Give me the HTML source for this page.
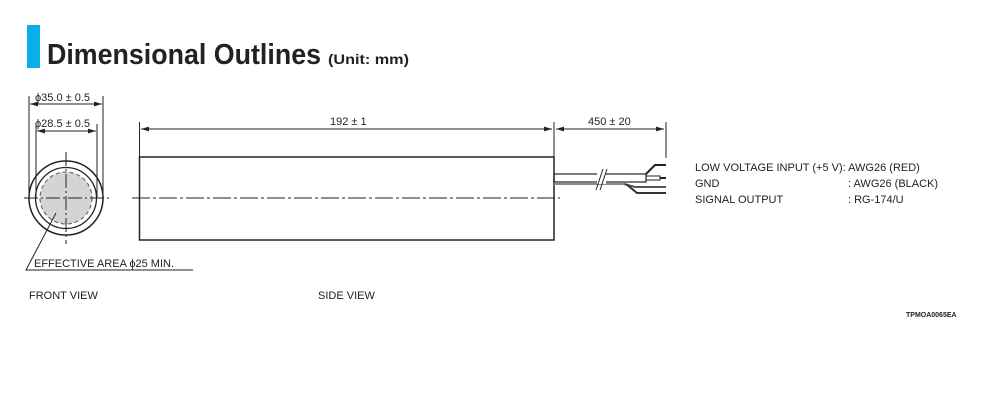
<!DOCTYPE html>
<html><head><meta charset="utf-8"><style>
html,body{margin:0;padding:0;background:#fff;width:1000px;height:400px;overflow:hidden}
svg{display:block}
text{font-family:"Liberation Sans",sans-serif;fill:#222}
</style></head><body>
<svg width="1000" height="400" viewBox="0 0 1000 400">
<defs>
<marker id="a" viewBox="0 0 10 6" refX="10" refY="3" markerWidth="8" markerHeight="5" orient="auto-start-reverse" markerUnits="userSpaceOnUse"><path d="M0,0L10,3L0,6z" fill="#222"/></marker>
</defs>
<rect x="27" y="25" width="13" height="43" fill="#0aaee8"/>
<text x="47" y="64" font-size="29" font-weight="bold" textLength="274" lengthAdjust="spacingAndGlyphs">Dimensional Outlines</text>
<text x="328" y="64" font-size="14" font-weight="bold" textLength="81" lengthAdjust="spacingAndGlyphs">(Unit: mm)</text>

<g stroke="#222" fill="none" stroke-width="1">
<line x1="29" y1="96" x2="29" y2="198"/><line x1="103" y1="96" x2="103" y2="198"/>
<line x1="30" y1="104" x2="102" y2="104" marker-start="url(#a)" marker-end="url(#a)"/>
<line x1="36" y1="124" x2="36" y2="198"/><line x1="97" y1="124" x2="97" y2="198"/>
<line x1="37" y1="131" x2="96" y2="131" marker-start="url(#a)" marker-end="url(#a)"/>
<circle cx="66" cy="198" r="37" stroke-width="1.5"/>
<circle cx="66" cy="198" r="30.5" stroke-width="1.3"/>
<circle cx="66" cy="198" r="26" fill="#d4d4d4" stroke="#555" stroke-dasharray="4 3"/>
<line x1="24" y1="198" x2="109" y2="198" stroke-dasharray="14 3 2 3"/>
<line x1="66" y1="152" x2="66" y2="244" stroke-dasharray="14 3 2 3"/>
<polyline points="56,213 26,270 193,270"/>
<line x1="139.5" y1="122" x2="139.5" y2="157"/><line x1="554" y1="122" x2="554" y2="176"/>
<line x1="141" y1="129" x2="552" y2="129" marker-start="url(#a)" marker-end="url(#a)"/>
<rect x="139.5" y="157" width="414.5" height="83" stroke-width="1.5"/>
<line x1="132" y1="198" x2="560" y2="198" stroke-dasharray="18 3 3 3"/>
<line x1="666" y1="122" x2="666" y2="158"/>
<line x1="556" y1="129" x2="664" y2="129" marker-start="url(#a)" marker-end="url(#a)"/>
<rect x="554" y="174" width="92" height="8" stroke-width="1.2"/>
<line x1="554" y1="184" x2="625" y2="184" stroke="#888" stroke-width="2"/>
<rect x="646" y="176" width="14" height="4"/>
<polyline points="646,174 655,165 666,165" stroke-width="2"/>
<line x1="660" y1="178" x2="666" y2="178" stroke-width="2"/>
<polyline points="624,184 635,187 666,187" stroke="#555" stroke-width="2"/>
<polyline points="626,184 637,193 666,193" stroke="#333" stroke-width="2"/>
</g>
<line x1="597" y1="178" x2="606" y2="178" stroke="#fff" stroke-width="12"/>
<line x1="596" y1="190" x2="603" y2="169" stroke="#222"/><line x1="600" y1="190" x2="607" y2="169" stroke="#222"/>

<g font-size="11">
<text x="35" y="101">ϕ35.0 ± 0.5</text>
<text x="35" y="127">ϕ28.5 ± 0.5</text>
<text x="34" y="267">EFFECTIVE AREA ϕ25 MIN.</text>
<text x="29" y="299">FRONT VIEW</text>
<text x="318" y="299">SIDE VIEW</text>
<text x="330" y="125">192 ± 1</text>
<text x="588" y="125">450 ± 20</text>
<text x="695" y="171">LOW VOLTAGE INPUT (+5 V): AWG26 (RED)</text>
<text x="695" y="187">GND</text>
<text x="848" y="187">: AWG26 (BLACK)</text>
<text x="695" y="203">SIGNAL OUTPUT</text>
<text x="848" y="203">: RG-174/U</text>
</g>
<text x="906" y="317" font-size="7" font-weight="bold">TPMOA0065EA</text>
</svg>
</body></html>
